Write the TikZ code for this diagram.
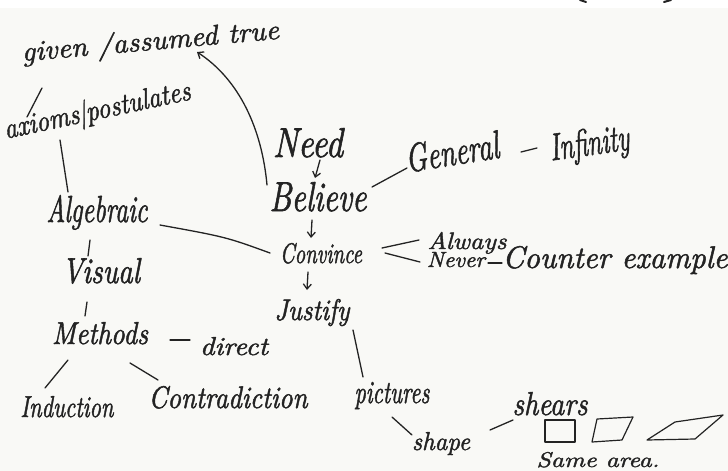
\documentclass[tikz,border=0pt]{standalone}
\usepackage{graphicx}
\usepackage{fontspec}
\newfontfamily\handfont{lmroman10-italic.otf}[FakeBold=1.6]
\usetikzlibrary{arrows.meta,calc}
\definecolor{ink}{RGB}{35,35,35}
\definecolor{paper}{RGB}{249,249,246}
\newcommand\fitwh[3]{\resizebox{#1pt}{#2pt}{#3}}
\begin{document}
\begin{tikzpicture}[x=1pt,y=-1pt,
  hw/.style={inner sep=0pt, anchor=base, text=ink, font=\handfont},
  link/.style={draw=ink, line width=1.3pt, line cap=round},
  arr/.style={link, -{Straight Barb[length=5pt,width=8pt]}},
  figshape/.style={draw=ink, line width=1.2pt, line join=round}]
\useasboundingbox (0,0) rectangle (728,471);
\fill[white] (0,0) rectangle (728,471);
\fill[paper] (0,8) rectangle (728,471);
% cut-off marks at the top edge
\draw[link, line width=2pt] (580,0) -- (586,2);
\draw[link, line width=2pt] (664,2) -- (671,0);

% nodes (placed at their baselines)
\node[hw, rotate=5] (given) at (151,50) {\fitwh{258}{21}{given /assumed true}};
\node[hw, rotate=12] (axioms) at (99,119) {\fitwh{190}{22}{axioms\textbar postulates}};
\node[hw] (need) at (308,157) {\fitwh{70}{29}{Need}};
\node[hw] (believe) at (318,211) {\fitwh{97}{29}{Believe}};
\node[hw, rotate=9] (general) at (454,165) {\fitwh{94}{28}{General}};
\node[hw, rotate=8] (infinity) at (591,155) {\fitwh{80}{27}{Infinity}};
\node[hw] (algebraic) at (97,222) {\fitwh{101}{27}{Algebraic}};
\node[hw] (visual) at (101,283) {\fitwh{78}{25}{Visual}};
\node[hw] (methods) at (100,344) {\fitwh{96}{22}{Methods}};
\node[hw] (direct) at (234,355) {\fitwh{68}{18}{direct}};
\node[hw] (induction) at (67,417) {\fitwh{93}{21}{Induction}};
\node[hw] (contradiction) at (228,408) {\fitwh{159}{22}{Contradiction}};
\node[hw] (convince) at (321,263) {\fitwh{82}{20}{Convince}};
\node[hw] (justify) at (312,320) {\fitwh{75}{21}{Justify}};
\node[hw] (always) at (467,249) {\fitwh{79}{17}{Always}};
\node[hw] (never) at (456,267) {\fitwh{58}{15}{Never}};
\node[hw] (counter) at (615,268) {\fitwh{225}{22}{Counter example}};
\node[hw] (pictures) at (392,403) {\fitwh{75}{21}{pictures}};
\node[hw] (shape) at (441,450) {\fitwh{58}{18}{shape}};
\node[hw] (shears) at (550,415) {\fitwh{75}{23}{shears}};
\node[hw] (area) at (598,467) {\fitwh{123}{15}{Same area.}};

% connectors
\draw[arr] ([shift={(-51,-26)}]believe.base) .. controls ([shift={(-56,-81)}]believe.base) and ([shift={(89,30)}]given.base) .. ([shift={(46,2)}]given.base);
\draw[link] ([shift={(-109,38)}]given.base) -- ([shift={(-72,-2)}]axioms.base);
\draw[link] ([shift={(-39,21)}]axioms.base) -- ([shift={(-29,-30)}]algebraic.base);
\draw[link] ([shift={(63,3)}]algebraic.base) .. controls ([shift={(-95,-26)}]convince.base) .. ([shift={(-51,-10)}]convince.base);
\draw[link] ([shift={(-7,18)}]algebraic.base) -- ([shift={(-13,-27)}]visual.base);
\draw[link] ([shift={(-14,19)}]visual.base) -- ([shift={(-15,-28)}]methods.base);
\draw[link] ([shift={(70,-4)}]methods.base) -- ([shift={(-44,-15)}]direct.base);
\draw[link] ([shift={(-32,16)}]methods.base) -- ([shift={(-22,-29)}]induction.base);
\draw[link] ([shift={(30,19)}]methods.base) -- ([shift={(-70,-28)}]contradiction.base);
\draw[arr] ([shift={(12,3)}]need.base) -- ([shift={(-3,-33)}]believe.base);
\draw[arr] ([shift={(-6,9)}]believe.base) -- ([shift={(-10,-25)}]convince.base);
\draw[arr] ([shift={(-13,9)}]convince.base) -- ([shift={(-5,-30)}]justify.base);
\draw[link] ([shift={(54,-24)}]believe.base) -- ([shift={(-47,3)}]general.base);
\draw[link] ([shift={(67,-13)}]general.base) -- ([shift={(-54,-7)}]infinity.base);
\draw[link] ([shift={(61,-15)}]convince.base) -- ([shift={(-48,-9)}]always.base);
\draw[link] ([shift={(64,-10)}]convince.base) -- ([shift={(-36,-5)}]never.base);
\draw[link] ([shift={(32,-4)}]never.base) -- ([shift={(-113,-5)}]counter.base);
\draw[link] ([shift={(41,10)}]justify.base) -- ([shift={(-29,-26)}]pictures.base);
\draw[link] ([shift={(0,14)}]pictures.base) -- ([shift={(-29,-15)}]shape.base);
\draw[link] ([shift={(49,-20)}]shape.base) -- ([shift={(-37,5)}]shears.base);

% shear figures
\draw[figshape] (545,420) rectangle (575,442);
\draw[figshape] (592,442) -- (597,419) -- (633,417) -- (622,440) -- cycle;
\draw[figshape] (647,440) -- (675,422) -- (723,415) -- (695,439) -- cycle;
\end{tikzpicture}
\end{document}
